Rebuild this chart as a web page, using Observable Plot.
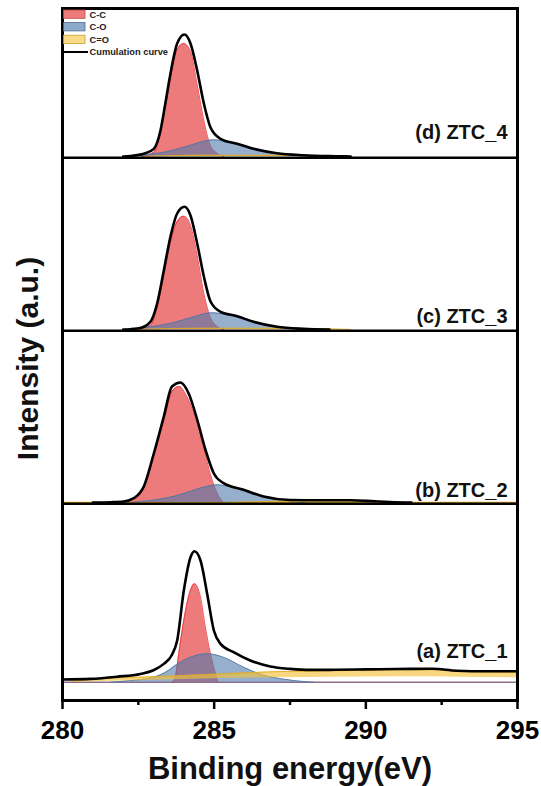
<!DOCTYPE html>
<html><head><meta charset="utf-8">
<script src="https://cdn.jsdelivr.net/npm/d3@7"></script>
<script src="https://cdn.jsdelivr.net/npm/@observablehq/plot@0.6"></script>
<style>
body{margin:0;background:#fff;}
#chart{width:541px;height:786px;}
svg text.lg-text{font-size:9.3px !important;font-weight:bold;}
</style></head><body><div id="chart"></div>
<script>
// ---------- data ----------
const xTicks = [280, 285, 290, 295];
const xMinorTicks = [282.5, 287.5, 292.5];
const sampleLabels = ["(a) ZTC_1", "(b) ZTC_2", "(c) ZTC_3", "(d) ZTC_4"];
const stackOffsets = [18.3, 198, 371, 544];   // vertical offset of each stacked spectrum (a.u.)
const labelLift = [24, 5.5, 6.3, 18];         // label height above its spectrum baseline (a.u.)
const seriesNames = ["C-C", "C-O", "C=O", "Cumulation curve"];

// (a) ZTC_1   [binding energy eV, intensity a.u.]
const ztc1_CC = [[283.62,0],[283.72,5],[283.83,28],[284.0,62],[284.22,92],[284.35,98.4],[284.55,85],[284.71,55],[284.88,28],[285.05,8],[285.12,0]];
const ztc1_CO = [[281.6,0],[282.2,1.5],[283.0,5],[283.4,10],[283.78,18],[284.22,25],[284.77,28.4],[285.3,25],[285.97,15],[286.63,7],[287.3,3],[287.9,0.8],[288.3,0]];
// C=O of ZTC_1 is drawn as a band: [E, lower, upper]
const ztc1_CeqO = [[280.3,0,0.5],[281,0.5,3],[283,2,5.5],[285,3.5,8],[287,4.5,10.5],[289,5,11.5],[291,5.5,12.3],[292.2,5.5,12.5],[293,5,10.8],[295,4.5,10]];
const ztc1_Cum = [[280.0,2.7],[280.92,3.3],[281.8,5.5],[282.57,8.3],[283.0,12],[283.34,18.3],[283.6,27],[283.78,41.7],[284.0,91.7],[284.22,125],[284.35,131],[284.55,121.7],[284.77,88.3],[284.99,51.7],[285.21,38.3],[285.64,30],[286.19,21.7],[286.85,15.7],[287.51,13.3],[288.17,12.3],[289,12.4],[290,12.8],[291,13.2],[292.2,13.4],[293,11.5],[294,11],[295,11]];

// (b) ZTC_2
const ztc2_CC = [[281.8,0],[282.35,3.5],[282.68,14.5],[283.01,46],[283.34,82],[283.61,111],[283.84,116],[284.1,106],[284.44,78],[284.71,47.7],[284.88,27.7],[285.1,9.3],[285.3,0]];
const ztc2_CO = [[282.3,0],[282.9,2],[283.5,5],[284.0,9],[284.5,14],[284.9,17],[285.1,17.7],[285.4,16.5],[285.8,13.5],[286.3,8],[286.9,3.5],[287.5,0.8],[288,0]];
const ztc2_CeqO = [[285.5,0],[286.5,0.8],[287.5,1.6],[288.5,2.2],[289.5,2.2],[290.3,1.2],[291,0.3],[291.5,0]];
const ztc2_Cum = [[281.0,0],[281.6,0.3],[282.02,1],[282.35,4.3],[282.68,16],[283.01,49],[283.34,86],[283.61,116],[283.89,120],[284.16,109],[284.44,83],[284.71,53],[284.99,29],[285.31,19.3],[285.97,12.7],[286.63,6],[287.5,2.5],[288.5,2.2],[289.5,2.3],[290.3,1.2],[290.8,0.5],[291.5,0]];

// (c) ZTC_3
const ztc3_CC = [[282.5,0],[282.9,4],[283.12,22],[283.34,54],[283.56,87],[283.78,108],[284.0,113.3],[284.22,104],[284.44,74],[284.66,36],[284.85,14],[285.1,3],[285.3,0]];
const ztc3_CO = [[282.0,0],[282.7,2],[283.3,4.5],[283.8,8],[284.3,12.5],[284.7,15.8],[284.95,16.7],[285.3,15.5],[285.76,12.5],[286.3,6.7],[287.07,2.5],[287.7,0.8],[288.2,0]];
const ztc3_CeqO = [[282.5,0],[283.5,0.8],[285,1.2],[287,1.2],[288.5,0.8],[289.5,0]];
const ztc3_Cum = [[282.0,0],[282.24,0.3],[282.62,2],[282.9,7.7],[283.12,26],[283.34,59],[283.56,93],[283.78,116],[284.02,122.7],[284.22,114],[284.44,86],[284.66,53],[284.88,28],[285.21,17.7],[285.76,13.3],[286.3,7.7],[287.07,2.7],[287.94,0.7],[288.8,0]];

// (d) ZTC_4
const ztc4_CC = [[282.6,0],[283.0,4],[283.23,23],[283.39,49],[283.56,78],[283.78,107],[284.0,113],[284.22,105],[284.44,72],[284.66,36],[284.85,13],[285.1,3],[285.3,0]];
const ztc4_CO = [[282.2,0],[282.8,2],[283.3,4],[283.8,7.5],[284.3,12],[284.7,15.5],[285.0,16.7],[285.3,15.5],[285.76,12],[286.3,6.7],[287.07,2.7],[287.7,1],[288.2,0]];
const ztc4_CeqO = [[282.7,0],[283.5,0.8],[285,1.2],[287,1.2],[288.5,0.8],[289.5,0]];
const ztc4_Cum = [[282.0,0],[282.24,0.5],[282.68,2.7],[283.01,7.7],[283.23,26],[283.39,53],[283.56,83],[283.78,113],[284.02,122],[284.22,113],[284.44,86],[284.66,53],[284.88,29],[285.21,17.7],[285.76,12.7],[286.3,7.7],[287.07,3.3],[287.94,1.3],[289,0.3],[289.5,0]];

const spectraCC = [ztc1_CC, ztc2_CC, ztc3_CC, ztc4_CC];
const spectraCO = [ztc1_CO, ztc2_CO, ztc3_CO, ztc4_CO];
const spectraCeqO = [ztc1_CeqO, ztc2_CeqO, ztc3_CeqO, ztc4_CeqO];
const spectraCum = [ztc1_Cum, ztc2_Cum, ztc3_Cum, ztc4_Cum];

// ---------- build tables ----------
function toRows(list) {
  const out = [];
  list.forEach((pairs, i) => {
    const off = stackOffsets[i];
    pairs.forEach(p => {
      if (p.length === 3) out.push({panel: i, E: p[0], y1: off + p[1], y2: off + p[2]});
      else out.push({panel: i, E: p[0], y1: off, y2: off + p[1]});
    });
  });
  return out;
}
const ccRows = toRows(spectraCC);
const coRows = toRows(spectraCO);
const ceqoRows = toRows(spectraCeqO);
const cumRows = toRows(spectraCum);

const colCC = {fill: "#e63c3c", stroke: "#ec2a35"};
const colCO = {fill: "#4f7aab", stroke: "#4e74a6"};
const colCeqO = {fill: "#f2c23c", stroke: "#e6a817"};
const crv = "monotone-x";

function component(rows, col, op) {
  return [
    Plot.areaY(rows, {x: "E", y1: "y1", y2: "y2", z: "panel", fill: col.fill, fillOpacity: op, curve: crv}),
    Plot.lineY(rows, {x: "E", y: "y2", z: "panel", stroke: col.stroke, strokeWidth: 1, strokeOpacity: 0.8, curve: crv})
  ];
}

const chart = Plot.plot({
  width: 541,
  height: 786,
  marginLeft: 62,
  marginRight: 24,
  marginTop: 8,
  marginBottom: 86,
  style: {fontFamily: "'Liberation Sans', Arial, sans-serif", background: "#fff", color: "#000"},
  x: {domain: [280, 295]},
  y: {domain: [0, 692], axis: null},
  marks: [
    Plot.ruleY([stackOffsets[0]], {stroke: "#8c6c8c", strokeWidth: 1.5}),
    Plot.ruleY([stackOffsets[1]], {stroke: "#e3a52a", strokeWidth: 1.5}),
    ...component(ccRows, colCC, 0.68),
    ...component(coRows, colCO, 0.6),
    ...component(ceqoRows, colCeqO, 0.65),
    Plot.lineY(cumRows, {x: "E", y: "y2", z: "panel", stroke: "#000", strokeWidth: 2.6, curve: crv}),
    Plot.ruleY(stackOffsets.slice(1), {stroke: "#000", strokeWidth: 2.5, dy: 1.2}),
    Plot.frame({stroke: "#000", strokeWidth: 3}),
    Plot.axisX({ticks: xTicks, tickSize: 9, strokeWidth: 2.5, tickPadding: 11, fontSize: 26, fontWeight: "bold", label: null}),
    Plot.axisX({ticks: xMinorTicks, tickSize: 5, strokeWidth: 2.5, tickFormat: () => "", label: null}),
    Plot.text(sampleLabels, {text: d => d, x: () => 295, y: (d, i) => stackOffsets[i] + labelLift[i], textAnchor: "end", lineAnchor: "bottom", dx: -10, fontSize: 20, fontWeight: "bold", fill: "#111"}),
    Plot.text(["Binding energy(eV)"], {text: d => d, frameAnchor: "bottom", textAnchor: "middle", lineAnchor: "bottom", dy: 78, fontSize: 31, fontWeight: "bold", fill: "#111"}),
    Plot.text(["Intensity (a.u.)"], {text: d => d, frameAnchor: "left", textAnchor: "middle", rotate: -90, lineAnchor: "bottom", dx: -25, dy: 4, fontSize: 30, fontWeight: "bold", fill: "#111"})
  ]
});
document.getElementById("chart").appendChild(chart);

// ---------- legend (inside the top panel) ----------
const legendFills = ["#ef7b7b", "#8eaacb", "#f8dc88", null];
const legendEdges = ["#b84a4a", "#4a6a90", "#c8a030", "#000"];
const svg = d3.select(chart);
const lg = svg.append("g").attr("transform", "translate(63,10)")
  .style("font-family", "'Liberation Sans', Arial, sans-serif");
seriesNames.forEach((name, i) => {
  const g = lg.append("g").attr("transform", `translate(0,${i * 12.6})`);
  if (legendFills[i]) {
    g.append("rect").attr("x", 0.5).attr("y", 0).attr("width", 21.5).attr("height", 8.3)
      .attr("fill", legendFills[i]).attr("stroke", legendEdges[i]).attr("stroke-width", 0.8);
  } else {
    g.append("line").attr("x1", 0).attr("x2", 25).attr("y1", 4.2).attr("y2", 4.2)
      .attr("stroke", legendEdges[i]).attr("stroke-width", 2);
  }
  g.append("text").attr("class", "lg-text").attr("x", 26.5).attr("y", 4.4).attr("dy", "0.35em")
    .attr("text-anchor", "start").attr("fill", "#222").text(name);
});
</script></body></html>
